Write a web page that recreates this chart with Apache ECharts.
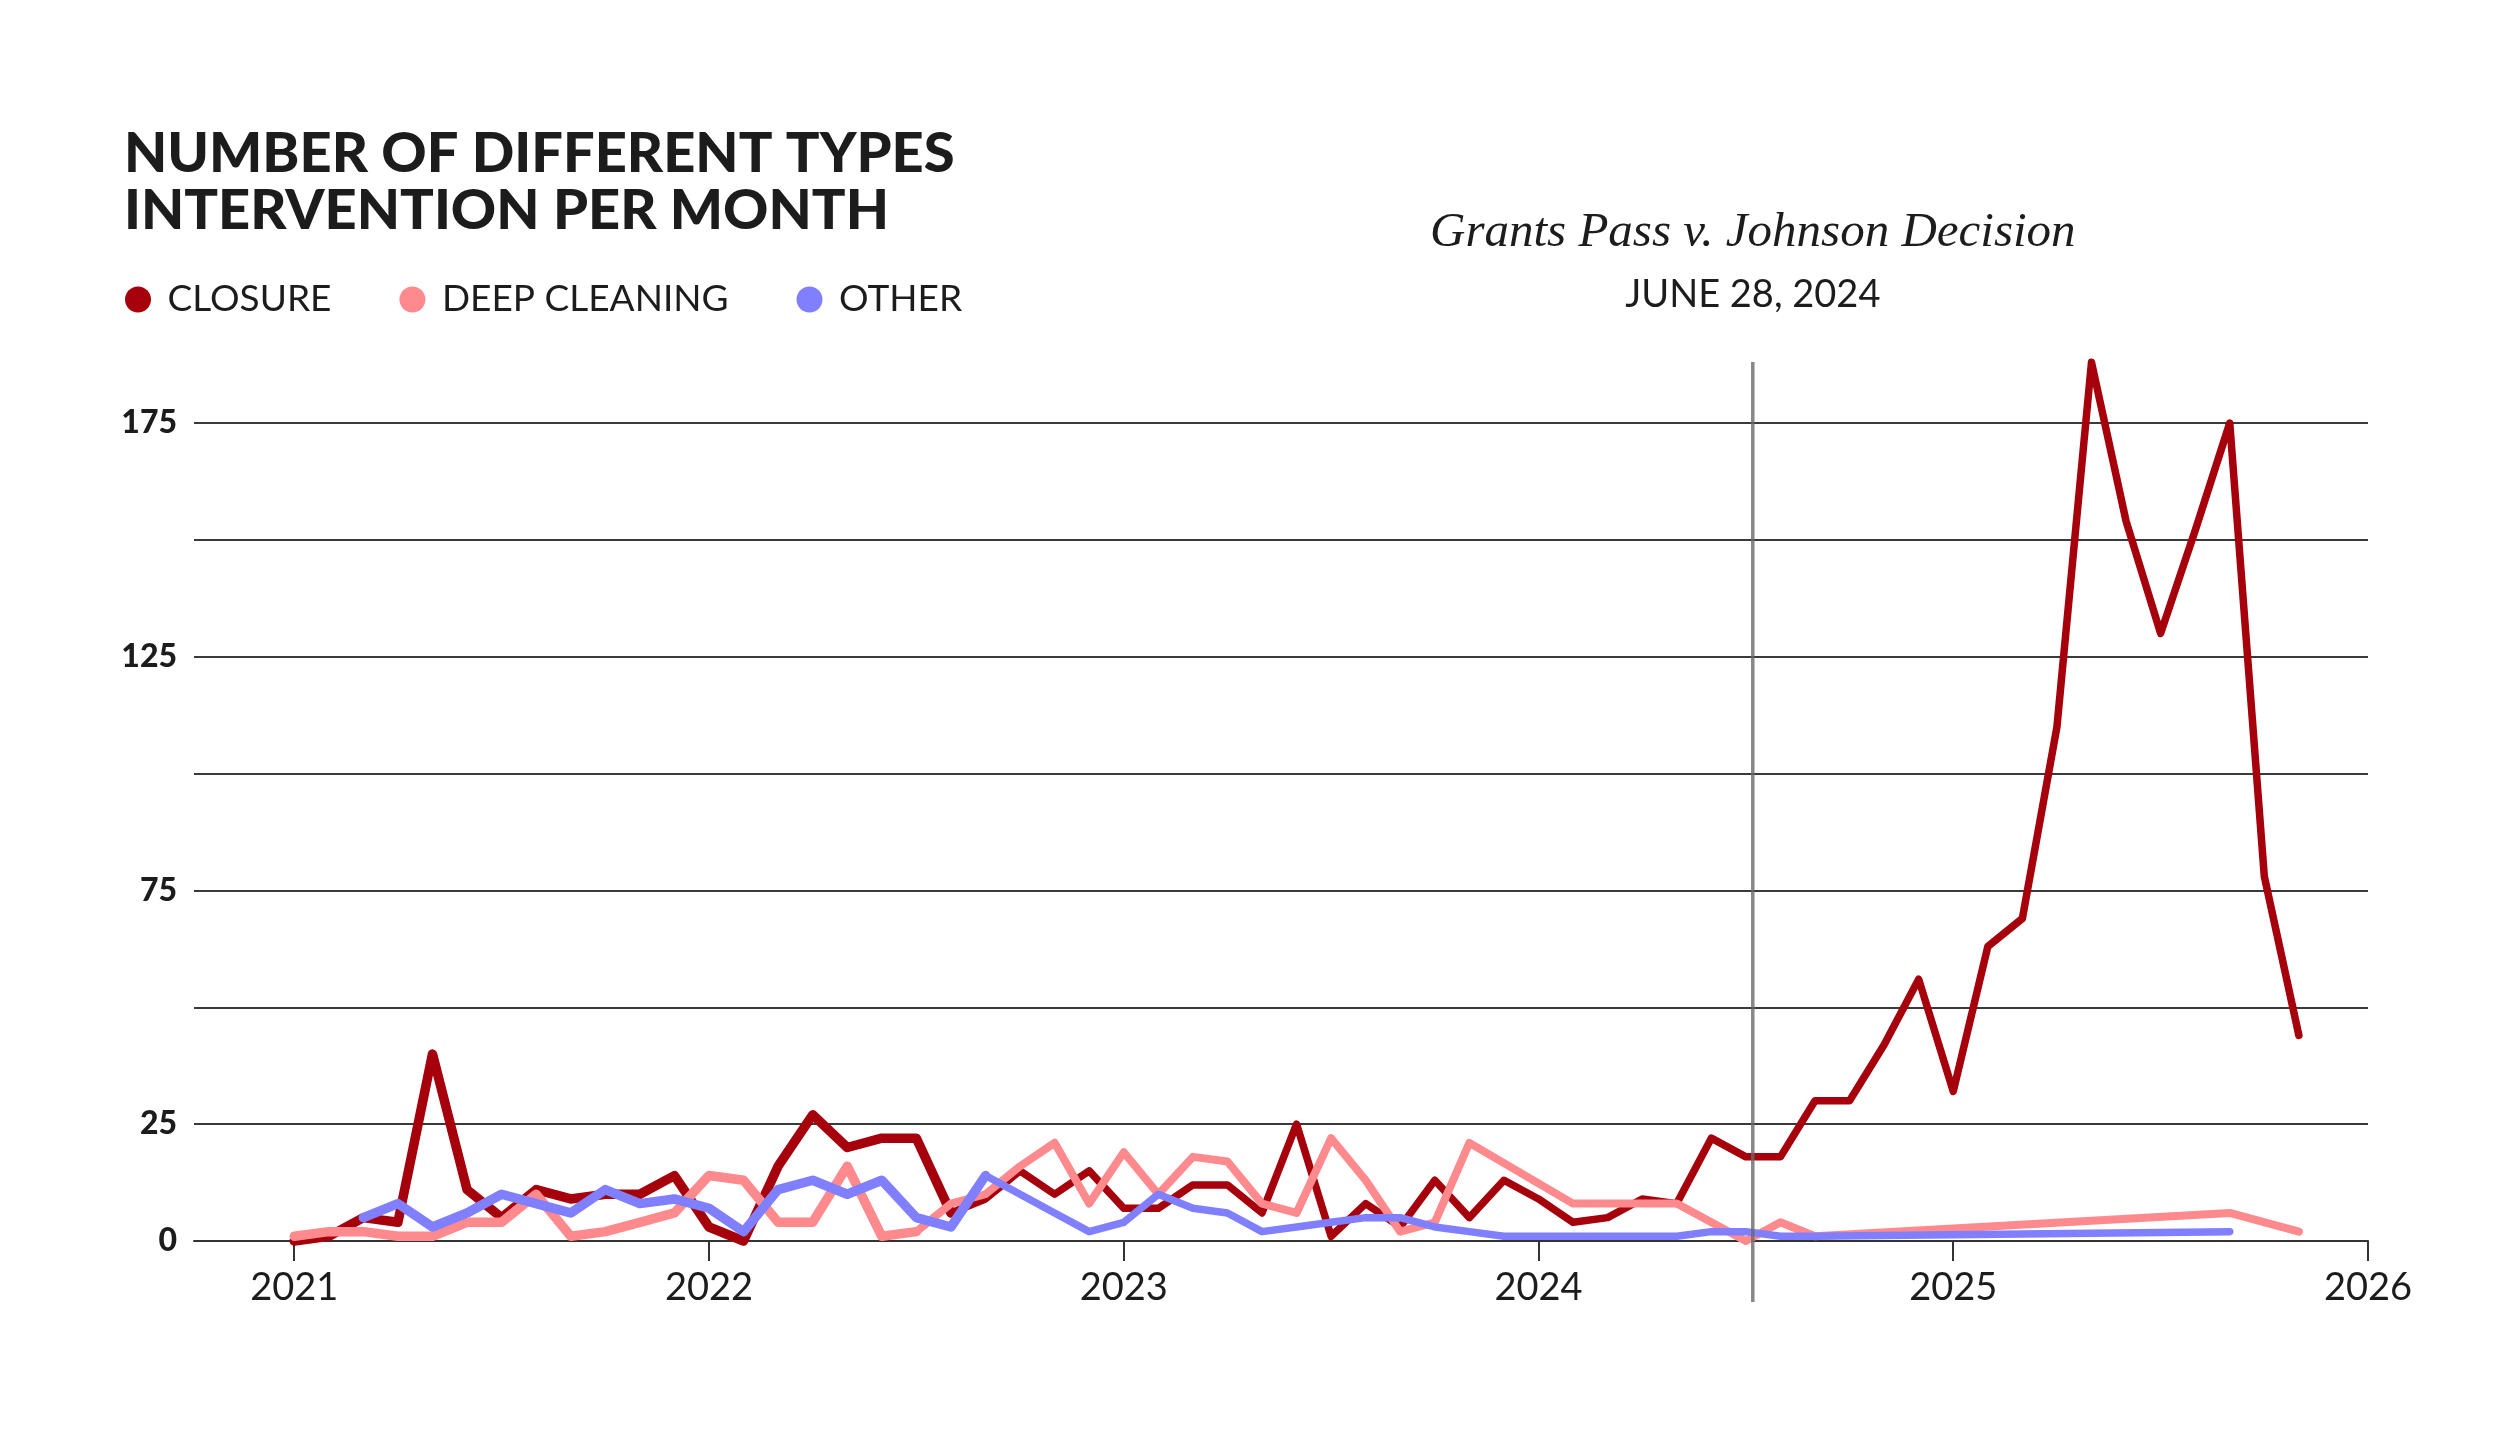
<!DOCTYPE html>
<html>
<head>
<meta charset="utf-8">
<title>Interventions per month</title>
<script src="https://cdn.jsdelivr.net/npm/echarts@6/dist/echarts.min.js"></script>
<style>
  html, body { margin: 0; padding: 0; background: #fff; }
  #chart { width: 2500px; height: 1431px; }
</style>
</head>
<body>
<div id="chart"></div>
<script>
// months Jan 2021 .. Nov 2025, x counted in months from Jan 2021
const startYear = 2021;
const monthCount = 59;

const closure = [
  0, 1, 5, 4, 40, 11, 5, 11, 9, 10, 10, 14,
  3, 0, 16, 27, 20, 22, 22, 6, 9, 15, 10, 15,
  7, 7, 12, 12, 6, 25, 1, 8, 3, 13, 5, 13,
  9, 4, 5, 9, 8, 22, 18, 18, 30, 30, 42, 56,
  32, 63, 69, 110, 188, 154, 130, 152, 175, 78, 44
];
const deepCleaning = [
  1, 2, 2, 1, 1, 4, 4, 10, 1, 2, 4, 6,
  14, 13, 4, 4, 16, 1, 2, 8, 10, 16, 21, 8,
  19, 10, 18, 17, 8, 6, 22, 13, 2, 4, 21, null,
  null, 8, 8, 8, 8, 4, 0, 4, 1, null, null, null,
  null, null, null, null, null, null, null, null, 6, null, 2
];
const other = [
  null, null, 5, 8, 3, 6, 10, 8, 6, 11, 8, 9,
  7, 2, 11, 13, 10, 13, 5, 3, 14, 10, 6, 2,
  4, 10, 7, 6, 2, 3, 4, 5, 5, 3, 2, 1,
  1, 1, 1, 1, 1, 2, 2, 1, 1, null, null, null,
  null, null, null, null, null, null, null, null, 2, null, null
];

const yearTicks = [2021, 2022, 2023, 2024, 2025, 2026];
const yLabelValues = [0, 25, 75, 125, 175];
// marker position (sits just after the end of June 2024)
const decision = { month: 42.2, title: 'Grants Pass v. Johnson Decision', label: 'JUNE 28, 2024' };

const types = [
  { name: 'CLOSURE', values: closure, color: '#a5000b', thickUntil: 19, wide: 9.5, thin: 7.5 },
  { name: 'DEEP CLEANING', values: deepCleaning, color: '#ff8a8e', thickUntil: 18, wide: 9.5, thin: 8 },
  { name: 'OTHER', values: other, color: '#7f7fff', thickUntil: 20, wide: 9.5, thin: 7.5 }
];

function points(values, from, to) {
  const out = [];
  for (let i = from; i <= to && i < values.length; i++) {
    if (values[i] !== null) out.push([i, values[i]]);
  }
  return out;
}

const series = [];
types.forEach(t => {
  const segs = [
    [0, t.thickUntil, t.wide],
    [t.thickUntil, monthCount - 1, t.thin]
  ];
  segs.forEach(([a, b, w]) => {
    series.push({
      name: t.name,
      type: 'line',
      data: points(t.values, a, b),
      showSymbol: false,
      symbol: 'none',
      clip: false,
      itemStyle: { color: t.color },
      lineStyle: { color: t.color, width: w, cap: 'round', join: 'round' },
      emphasis: { disabled: true }
    });
  });
});

const chart = echarts.init(document.getElementById('chart'));
const yearMonths = yearTicks.map(y => (y - startYear) * 12);

chart.setOption({
  animation: false,
  backgroundColor: '#fff',
  title: {
    text: 'NUMBER OF DIFFERENT TYPES\nINTERVENTION PER MONTH',
    left: 119,
    top: 120,
    textStyle: { fontFamily: 'Lato', fontWeight: 900, fontSize: 56, lineHeight: 57, color: '#1c1c1c' }
  },
  legend: {
    data: types.map(t => t.name),
    icon: 'circle',
    left: 120,
    top: 276,
    itemWidth: 49,
    itemHeight: 26,
    itemGap: 68,
    textStyle: { fontFamily: 'Lato', fontSize: 37, color: '#1c1c1c' }
  },
  grid: { left: 194, right: 132, top: 423, bottom: 190 },
  xAxis: {
    type: 'value',
    min: -2.9,
    max: 60,
    axisLine: { show: true, onZero: false, lineStyle: { color: '#333', width: 2 } },
    axisTick: { show: true, customValues: yearMonths, length: 20, lineStyle: { color: '#333', width: 2 } },
    axisLabel: {
      customValues: yearMonths,
      formatter: v => String(startYear + Math.round(v / 12)),
      fontFamily: 'Lato', fontSize: 38, color: '#1c1c1c', margin: 28
    },
    splitLine: { show: false }
  },
  yAxis: {
    type: 'value',
    min: 0,
    max: 175,
    interval: 25,
    axisLine: { show: false },
    axisTick: { show: false },
    splitLine: { lineStyle: { color: '#3a3a3a', width: 2 } },
    axisLabel: {
      formatter: v => (yLabelValues.indexOf(v) >= 0 ? String(v) : ''),
      fontFamily: 'Lato', fontWeight: 900, fontSize: 32, color: '#1c1c1c', margin: 17
    }
  },
  series: series
});

// decision marker, placed through the x scale
const dx = chart.convertToPixel({ xAxisIndex: 0 }, decision.month);
chart.setOption({
  graphic: [
    {
      type: 'line',
      z: 100,
      shape: { x1: dx, y1: 362, x2: dx, y2: 1302 },
      style: { stroke: 'rgba(105,105,105,0.8)', lineWidth: 3.5 }
    },
    {
      type: 'text',
      x: dx, y: 233,
      style: {
        text: decision.title, align: 'center', verticalAlign: 'middle',
        font: 'italic 49px "Liberation Serif", serif', fill: '#1c1c1c'
      }
    },
    {
      type: 'text',
      x: dx, y: 295,
      style: {
        text: decision.label, align: 'center', verticalAlign: 'middle',
        font: '38px Lato, sans-serif', fill: '#1c1c1c'
      }
    }
  ]
});

window.addEventListener('resize', () => chart.resize());
</script>
</body>
</html>
